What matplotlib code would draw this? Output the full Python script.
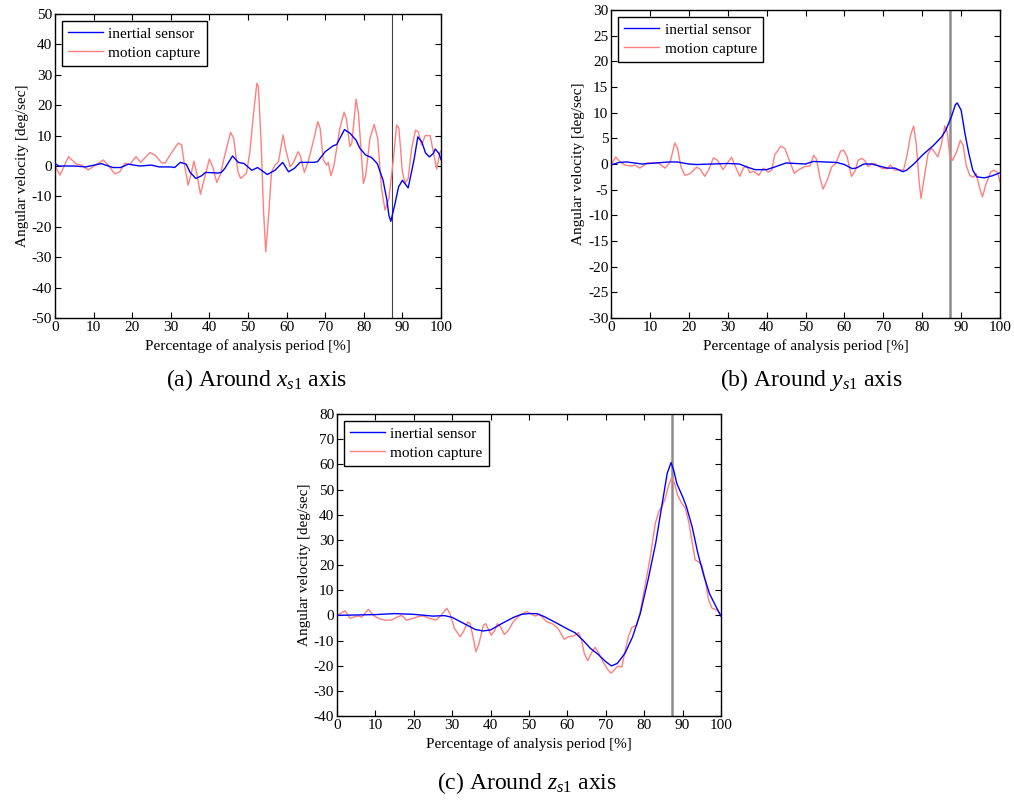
import matplotlib
matplotlib.use("Agg")
import matplotlib.pyplot as plt

plt.rcParams['font.family'] = ['Liberation Serif', 'DejaVu Serif']
plt.rcParams['mathtext.fontset'] = 'custom'
plt.rcParams['mathtext.it'] = 'Liberation Serif:italic'
plt.rcParams['mathtext.rm'] = 'Liberation Serif'
plt.rcParams['axes.unicode_minus'] = False

# (a) around x_s1
ax_blue_x = [0, 1, 5, 8, 12, 15, 17, 19, 22, 25, 27, 30, 31, 32.5, 34, 35, 36.5, 38, 39, 42, 43, 44, 46,
             47.5, 49, 51, 52.5, 55, 57, 59, 60.5, 62, 63.5, 67, 68, 70, 72, 73, 75, 76.5, 78, 79, 80.5,
             82, 83.5, 85, 86, 86.5, 87, 88, 89, 90, 91.5, 93, 94, 95, 96, 97, 98, 98.5, 99.5, 100]
ax_blue_y = [0.8, 0, 0, -0.3, 0.8, -0.5, -0.5, 0.6, 0, 0.3, -0.3, -0.3, -0.5, 1.2, 0.6, -2.1, -4.1, -3.2,
             -2.1, -2.3, -2.2, -0.8, 3.3, 1.2, 0.8, -1.4, -0.5, -2.8, -1.4, 1.2, -1.9, -0.8, 1.2, 1.2, 1.4,
             4.7, 6.6, 7.1, 12, 10.7, 8.5, 5.8, 3.6, 2.8, 0.8, -4.7, -11.3, -16.2, -18.2, -12.9, -6.9, -4.7,
             -7.2, 1.9, 9.6, 8, 4.3, 3, 4.1, 5.6, 4.1, 2.1]
ax_red_x = [0, 1.3, 3.5, 5.6, 6.9, 8.6, 10.4, 12.5, 13.8, 15.5, 16.8, 18.1, 19.4, 21, 22.2, 24.6, 25.9,
            27.6, 28.5, 29.8, 31.9, 32.8, 33.7, 34.5, 35.2, 36, 36.7, 37.7, 38.5, 40, 41, 41.9, 42.8, 44,
            45.5, 46.3, 47.4, 48.1, 49.6, 50.5, 51.4, 52.3, 52.7, 53.4, 54, 54.6, 55.3, 56.1, 57, 57.9,
            59.1, 59.7, 60.9, 61.7, 63, 63.5, 64.6, 65.6, 66.9, 68.1, 68.7, 69.5, 70.4, 70.8, 71.5, 72.3,
            73.8, 74.9, 75.5, 76.4, 76.9, 78, 78.6, 79.9, 80.5, 81.6, 82.7, 83.6, 84.6, 85.5, 86.5, 87.6,
            88.5, 89.1, 90, 90.7, 91.5, 92.4, 93.4, 94.1, 95, 95.9, 97.2, 98, 98.9, 99.7, 100]
ax_red_y = [0, -3.0, 3.1, 0.6, 0.3, -1.3, 0.2, 2.0, 0.3, -2.6, -1.9, 0.9, 0.5, 3.1, 1.2, 4.4, 3.6, 1.1,
            0.9, 3.6, 7.5, 7.0, -0.8, -6.3, -3.0, 1.6, -2.3, -9.3, -5.2, 2.3, -0.8, -5.4, -3.0, 3.6, 11.1,
            9.1, -1.9, -4.1, -2.4, 4.7, 16.8, 27.2, 26, 8, -13.9, -28.2, -17.2, -1.9, 0.3, 1.4, 10.2, 5.9,
            -0.2, 0.9, 4.7, 3.6, -2.1, 1.4, 8, 14.6, 12.4, 2, 0.3, 1.2, -3.2, 0.3, 12.4, 17.7, 15.5, 6.4,
            7.5, 22, 17.7, -5.7, -3, 9.1, 13.7, 9.1, -7.4, -14.5, -10.6, 1.4, 13.5, 12.4, -1.9, -5.7,
            -4.1, 5.8, 11.8, 11.3, 6.9, 10, 10, 4.7, -1, 4.3, 5]

# (b) around y_s1
by_blue_x = [0, 2, 4, 8, 15, 17, 20, 22, 30, 33, 35, 37, 40, 42, 45, 50, 52, 55, 58, 60, 62, 63, 65, 67,
             69, 71, 73, 75, 76, 78, 80, 83, 85, 86, 87.5, 88.5, 89, 90, 91, 92, 93, 94, 96, 98, 100]
by_blue_y = [-0.2, 0.3, 0.4, 0, 0.4, 0.4, 0, -0.1, 0.1, 0, -0.6, -1.1, -1.1, -0.6, 0.2, 0, 0.5, 0.4, 0.3,
             -0.1, -0.9, -0.8, 0, 0, -0.4, -0.8, -0.8, -1.5, -1.2, 0.1, 1.7, 3.7, 5.3, 6.5, 9.2, 11.5,
             11.9, 10.5, 5.9, 2, -1.2, -2.5, -2.7, -2.3, -1.7]
by_red_x = [0, 1.2, 2.3, 3.6, 5.3, 6.2, 7.4, 9.2, 12.2, 13.9, 15.2, 16.4, 17.1, 18, 19, 20.3, 22, 22.9,
            24.1, 25.2, 26.3, 27.4, 28.8, 29.9, 31, 31.8, 33.1, 34, 34.9, 35.7, 36.6, 38, 39.2, 40.4,
            41.3, 42.1, 43.7, 44.7, 46, 47.1, 48.1, 49.8, 51.1, 52.1, 52.8, 53.7, 54.5, 55.6, 56.7, 57.8,
            59, 59.8, 60.7, 61.8, 62.7, 63.5, 64.4, 65.2, 66.1, 67, 67.8, 68.7, 69.8, 71, 71.8, 72.9,
            74.2, 75.2, 76.1, 77, 77.8, 78.5, 79.2, 79.7, 80.5, 81.5, 82.4, 83.2, 84, 84.9, 85.8, 86.4,
            87.1, 87.8, 88.8, 89.8, 90.5, 91.3, 92.2, 93.1, 93.9, 94.8, 95.5, 96.3, 97.6, 98.4, 99.3, 100]
by_red_y = [-0.2, 1.4, 0.4, -0.2, -0.4, -0.2, -0.8, 0.2, 0.2, -0.8, 0.4, 4.1, 3, -0.6, -2.2, -1.9, -0.6,
            -1, -2.4, -1, 1.2, 0.7, -1.1, 0.2, 1.3, -0.2, -2.4, -0.8, -0.4, -1.7, -1.4, -2.2, -0.8, -1.6,
            -1.2, 1.8, 3.5, 3, 0.4, -1.8, -1.2, -0.5, -0.4, 1.7, 1, -2.6, -4.9, -3.1, -0.6, 0.1, 2.5, 2.7,
            1.4, -2.4, -1.4, 0.7, 1.1, 0.7, -0.5, 0.1, 0.1, -0.4, -0.9, -0.9, -0.2, -1.2, -1.1, -1.2, 1.7,
            5.6, 7.4, 3.7, -3.4, -6.7, -2.7, 2, 3.1, 2.3, 1.4, 3.7, 7.4, 6.3, 1.7, 0.7, 2.3, 4.6, 3.7,
            -0.2, -2.2, -2.6, -1.9, -4.8, -6.4, -4.1, -1.6, -1.2, -1.6, -3.5]

# (c) around z_s1
cz_blue_x = [0, 10, 15, 20, 25, 28, 30, 33, 36, 38, 40, 43, 46, 48, 50, 52, 54, 57, 60, 62, 64, 66, 68,
             70, 71.5, 73, 75, 77, 79, 81, 83, 85, 86, 87, 87.7, 88.5, 90, 91, 92.5, 94, 95.5, 97, 98.5, 100]
cz_blue_y = [0, 0.3, 0.7, 0.4, -0.3, -0.1, -0.8, -3.2, -5.6, -6.2, -5.8, -3.2, -0.8, 0.4, 0.7, 0.7, -0.5,
             -2.9, -5.4, -6.9, -9.8, -13.1, -15.5, -18.4, -20.1, -19.1, -15.1, -8.5, 0.8, 14, 28.6, 47.2,
             56.4, 60.7, 57.7, 52.4, 47.2, 43.2, 35.2, 24.6, 16, 8.7, 4.1, -0.3]
cz_red_x = [0, 2.1, 3.4, 4.7, 5.6, 6.4, 8.2, 9.5, 10.8, 12.5, 14.2, 15.5, 16.8, 18.1, 19.8, 21.1, 22.4,
            24.1, 25.8, 27.1, 28.6, 29.4, 30.6, 32.1, 32.9, 34.1, 34.7, 35.6, 36.2, 37, 38.1, 38.7, 39.5,
            40.2, 41.1, 41.8, 42.6, 43.6, 44.6, 45.9, 47.2, 48.6, 49.4, 50.7, 51.7, 52.7, 54.6, 56.3,
            57.6, 59.2, 60.3, 61.6, 62.9, 63.7, 64.4, 65.3, 66.2, 67.2, 68.1, 69.4, 70.5, 71.4, 72.3,
            73.1, 74.2, 74.9, 75.9, 76.8, 78.1, 78.9, 80.2, 81.6, 82.9, 83.8, 84.8, 85.5, 86.4, 87.2,
            87.9, 88.7, 89.8, 90.7, 91.7, 92.4, 93.3, 94.1, 95, 95.9, 96.8, 97.7, 99, 100]
cz_red_y = [0, 1.8, -1.2, -0.5, -0.2, -0.7, 2.4, 0, -1.2, -1.9, -1.9, -0.8, 0, -1.9, -1.2, -0.5, -0.2,
            -1.2, -1.9, 0, 2.8, 0.8, -5.2, -8.5, -6.6, -2.6, -3.3, -9.8, -14.5, -11.2, -4, -3.3, -5.7,
            -7.9, -6, -3.3, -4.6, -7.6, -6, -2.6, -0.5, 0.8, 1.5, 0.5, -0.3, 0.5, -2.5, -3.5, -5.3, -9.5,
            -8.5, -8.2, -6.9, -9.8, -15.1, -18, -15.1, -12.7, -14.8, -18.8, -21.5, -23, -21.5, -20.2,
            -20.5, -15.1, -8.5, -4.8, -3.8, 0.8, 11.4, 23.3, 36.5, 41.2, 43.8, 46.5, 51.8, 54.8, 52.5,
            47.8, 44.5, 42.7, 36.5, 29.9, 22, 21.3, 20, 14, 6.1, 2.8, 2.1, 0]

panels = [
    ([0.0542, 0.603, 0.3807, 0.3795], ax_blue_x, ax_blue_y, ax_red_x, ax_red_y, (-50, 50), 10, '0.25', 0.8),
    ([0.6026, 0.603, 0.3836, 0.3845], by_blue_x, by_blue_y, by_red_x, by_red_y, (-30, 30), 5, '0.55', 1.8),
    ([0.3323, 0.1061, 0.3787, 0.377], cz_blue_x, cz_blue_y, cz_red_x, cz_red_y, (-40, 80), 10, '0.55', 1.8),
]
captions = [(0.253, 0.525, 'x'), (0.8, 0.525, 'y'), (0.52, 0.022, 'z')]
tags = ['(a)', '(b)', '(c)']

fig = plt.figure(figsize=(10.14, 8.01), dpi=100)
for i, (pos, bx, by, rx, ry, ylim, ystep, vcol, vlw) in enumerate(panels):
    ax = fig.add_axes(pos)
    ax.axvline(87.2, color=vcol, lw=vlw, zorder=1)
    ax.plot(bx, by, color='#0000ff', lw=1.0, label='inertial sensor', zorder=3)
    ax.plot(rx, ry, color='#ff7f7f', lw=1.0, label='motion capture', zorder=2)
    ax.set_xlim(0, 100)
    ax.set_ylim(*ylim)
    ax.set_xticks(range(0, 101, 10))
    ax.set_yticks(range(ylim[0], ylim[1] + 1, ystep))
    ax.tick_params(direction='in', top=True, right=True, labelsize=11, length=4, pad=2)
    for s in ax.spines.values():
        s.set_linewidth(1.0)
    ax.set_xlabel('Percentage of analysis period [%]', fontsize=11, labelpad=4)
    ax.set_ylabel('Angular velocity [deg/sec]', fontsize=11, labelpad=2)
    leg = ax.legend(loc='upper left', fontsize=11, fancybox=False, framealpha=1,
                    edgecolor='k', borderaxespad=0.45, handlelength=2.3,
                    borderpad=0.4, labelspacing=0.35, handletextpad=0.35)
    leg.get_frame().set_linewidth(1.0)
    cx, cy, v = captions[i]
    fig.text(cx, cy, tags[i] + ' Around $' + v + '_{s1}$ axis', fontsize=17, ha='center', va='center')

fig.savefig('out.png', dpi=100)
